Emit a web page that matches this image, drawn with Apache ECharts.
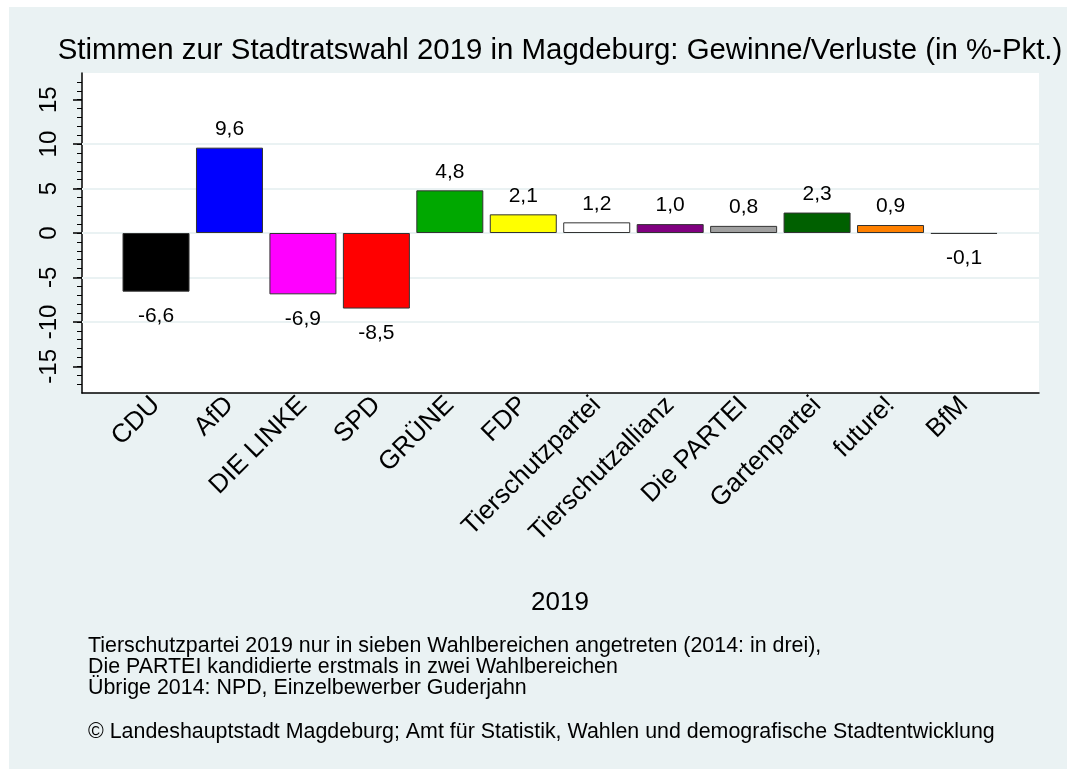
<!DOCTYPE html>
<html>
<head>
<meta charset="utf-8">
<script src="https://cdn.jsdelivr.net/npm/echarts@6/dist/echarts.min.js"></script>
<style>
  html, body { margin: 0; padding: 0; background: #fff; }
  #chart { width: 1067px; height: 769px; }
</style>
</head>
<body>
<div id="chart"></div>
<script>
  // Daten
  const parties = ["CDU", "AfD", "DIE LINKE", "SPD", "GRÜNE", "FDP", "Tierschutzpartei",
    "Tierschutzallianz", "Die PARTEI", "Gartenpartei", "future!", "BfM"]
  const changes = [-6.6, 9.6, -6.9, -8.5, 4.8, 2.1, 1.2, 1.0, 0.8, 2.3, 0.9, -0.1]
  const partyColors = ["#000000", "#0000ff", "#ff00ff", "#ff0000", "#00a800", "#ffff00", "#ffffff",
    "#800080", "#a0a0a0", "#006000", "#ff8000", "#000000"]
  const yTicks = [-15, -10, -5, 0, 5, 10, 15]
  const gridValues = [-10, -5, 0, 5, 10]
  const notes = [
    "Tierschutzpartei 2019 nur in sieben Wahlbereichen angetreten (2014: in drei),",
    "Die PARTEI kandidierte erstmals in zwei Wahlbereichen",
    "Übrige 2014: NPD, Einzelbewerber Guderjahn",
  ]
  const source = "© Landeshauptstadt Magdeburg; Amt für Statistik, Wahlen und demografische Stadtentwicklung"

  const font = "'Liberation Sans', Arial, sans-serif"
  const minorTicks = []
  for (let v = -17; v <= 17; v++) minorTicks.push(v)

  const fmt = (v) => v.toFixed(1).replace(".", ",")

  const barData = changes.map((v, i) => ({
    value: v,
    itemStyle: { color: partyColors[i] },
    label: { position: v < 0 ? "bottom" : "top", distance: v < 0 ? 14 : 8 },
  }))

  const noteTexts = notes.map((t, i) => ({
    type: "text",
    x: 88,
    y: 646 + i * 21,
    style: { text: t, fill: "#000", font: "21.4px " + font, textVerticalAlign: "middle" },
  }))

  const option = {
    backgroundColor: "#eaf2f3",
    animation: false,
    textStyle: { fontFamily: font },
    graphic: [
      // weisser Rand oben/links
      { type: "rect", shape: { x: 0, y: 0, width: 1067, height: 7 }, style: { fill: "#fff" } },
      { type: "rect", shape: { x: 0, y: 0, width: 9, height: 769 }, style: { fill: "#fff" } },
      {
        type: "text",
        x: 560,
        y: 51,
        style: {
          text: "Stimmen zur Stadtratswahl 2019 in Magdeburg: Gewinne/Verluste (in %-Pkt.)",
          fill: "#000", font: "29.4px " + font, textAlign: "center", textVerticalAlign: "middle",
        },
      },
      ...noteTexts,
      {
        type: "text",
        x: 88,
        y: 732,
        style: { text: source, fill: "#000", font: "21.4px " + font, textVerticalAlign: "middle" },
      },
    ],
    grid: [
      { left: 82, right: 28, top: 73, bottom: 376, show: true, backgroundColor: "#fff", borderWidth: 0 },
      { left: 119.3, right: 66.3, top: 73, bottom: 376 },
    ],
    xAxis: [
      {
        gridIndex: 0, type: "value", min: 0, max: 1,
        axisLine: { show: true, onZero: false, lineStyle: { color: "#000", width: 1.5 } },
        axisTick: { show: false }, axisLabel: { show: false }, splitLine: { show: false },
      },
      {
        gridIndex: 1, type: "category", data: parties,
        axisLine: { show: false, onZero: false }, axisTick: { show: false },
        axisLabel: { rotate: 45, fontSize: 26, color: "#000", margin: 8, interval: 0 },
        name: "2019", nameLocation: "middle", nameGap: 197,
        nameTextStyle: { fontSize: 26, color: "#000" },
      },
    ],
    yAxis: [
      {
        gridIndex: 0, type: "value", min: -18, max: 18, position: "left",
        axisLine: { show: true, lineStyle: { color: "#000", width: 1.5 } },
        axisTick: { show: true, customValues: yTicks, length: 9, lineStyle: { color: "#000", width: 1.5 } },
        axisLabel: { customValues: yTicks, rotate: 90, fontSize: 24, color: "#000", margin: 21 },
        splitLine: { show: false },
      },
      {
        gridIndex: 0, type: "value", min: -18, max: 18, position: "left",
        axisLine: { show: false },
        axisTick: { show: true, customValues: minorTicks, length: 5, lineStyle: { color: "#000", width: 1 } },
        axisLabel: { show: false }, splitLine: { show: false },
      },
      {
        gridIndex: 1, type: "value", min: -18, max: 18, show: false,
      },
    ],
    series: [
      {
        type: "line",
        xAxisIndex: 0, yAxisIndex: 0,
        data: [],
        silent: true,
        markLine: {
          silent: true, symbol: "none",
          label: { show: false },
          lineStyle: { color: "#eaf2f3", width: 2, type: "solid" },
          data: gridValues.map((v) => ({ yAxis: v })),
        },
      },
      {
        type: "bar",
        xAxisIndex: 1, yAxisIndex: 2,
        barWidth: 67,
        z: 5,
        itemStyle: { borderColor: "#333", borderWidth: 1 },
        label: { show: true, color: "#000", fontSize: 21, formatter: (p) => fmt(p.value) },
        data: barData,
      },
    ],
  }

  const myChart = echarts.init(document.getElementById("chart"))
  myChart.setOption(option)
</script>
</body>
</html>
